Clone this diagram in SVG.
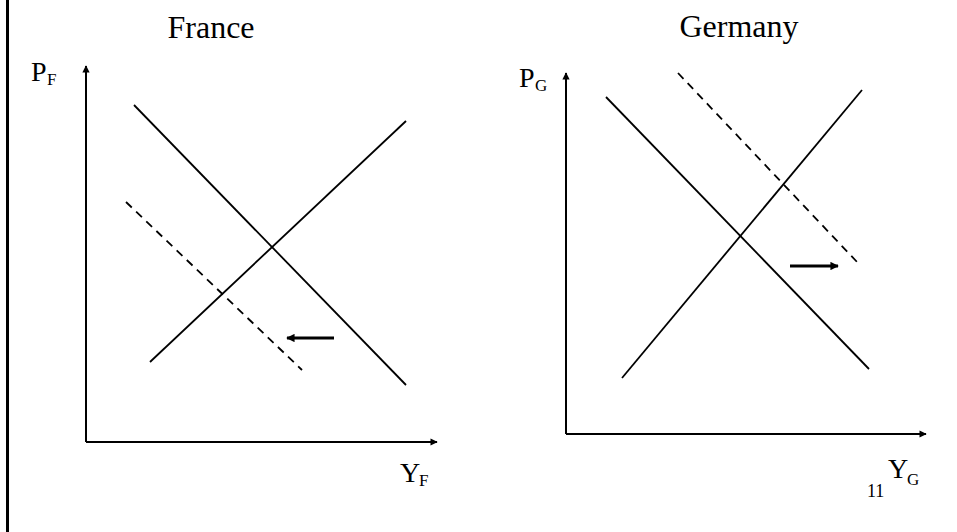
<svg xmlns="http://www.w3.org/2000/svg" width="957" height="532" viewBox="0 0 957 532">
<defs>
<style>
.t{font-family:"Liberation Serif","Times New Roman",serif;fill:#000}
.title{font-size:32px}
.lab{font-size:28px}
.sub{font-size:17px}
.num{font-size:18px}
.ax{stroke:#000;stroke-width:2;fill:none}
.ln{stroke:#000;stroke-width:1.8;fill:none}
.dash{stroke:#000;stroke-width:1.8;fill:none;stroke-dasharray:8 6}
.shift{stroke:#000;stroke-width:3;fill:none}
</style>
<marker id="axh" viewBox="0 0 10 10" refX="9" refY="5" markerWidth="4.2" markerHeight="3.6" markerUnits="strokeWidth" orient="auto">
<path d="M0,0 L10,5 L0,10 z" fill="#000"/>
</marker>
<marker id="sh" viewBox="0 0 10 10" refX="9" refY="5" markerWidth="3.5" markerHeight="2.8" markerUnits="strokeWidth" orient="auto">
<path d="M0,0 L10,5 L0,10 z" fill="#000"/>
</marker>
</defs>
<rect width="957" height="532" fill="#fff"/>
<line x1="7.5" y1="0" x2="7.5" y2="532" stroke="#000" stroke-width="3"/>

<g id="france">
<text class="t title" x="211" y="38" text-anchor="middle">France</text>
<g id="france-pf"><text class="t lab" x="31" y="81">P</text><text class="t sub" x="47" y="85">F</text></g>
<g id="france-yf"><text class="t lab" x="400" y="482">Y</text><text class="t sub" x="419" y="486">F</text></g>
</g>

<g id="germany">
<text class="t title" x="739" y="37" text-anchor="middle">Germany</text>
<g id="germany-pg"><text class="t lab" x="519" y="87">P</text><text class="t sub" x="535" y="91">G</text></g>
<g id="germany-yg"><text class="t lab" x="888" y="478">Y</text><text class="t sub" x="907" y="485">G</text></g>
<text class="t num" x="867" y="497">11</text>
</g>

<g id="connectors">
<!-- France axes -->
<polyline class="ax" points="86,442 437,442" marker-end="url(#axh)"/>
<line class="ax" x1="86" y1="442" x2="86" y2="66" marker-end="url(#axh)"/>
<!-- France curves -->
<line class="ln" x1="134" y1="105" x2="406" y2="385"/>
<line class="ln" x1="150" y1="362" x2="406" y2="121"/>
<line class="dash" x1="126" y1="202" x2="302" y2="370"/>
<line class="shift" x1="334" y1="338" x2="287" y2="338" marker-end="url(#sh)"/>
<!-- Germany axes -->
<polyline class="ax" points="566,434 926,434" marker-end="url(#axh)"/>
<line class="ax" x1="566" y1="434" x2="566" y2="73" marker-end="url(#axh)"/>
<!-- Germany curves -->
<line class="ln" x1="606" y1="97" x2="869" y2="369"/>
<line class="ln" x1="622" y1="378" x2="862" y2="90"/>
<line class="dash" x1="678" y1="73" x2="858" y2="263"/>
<line class="shift" x1="790" y1="266" x2="838" y2="266" marker-end="url(#sh)"/>
</g>
</svg>
